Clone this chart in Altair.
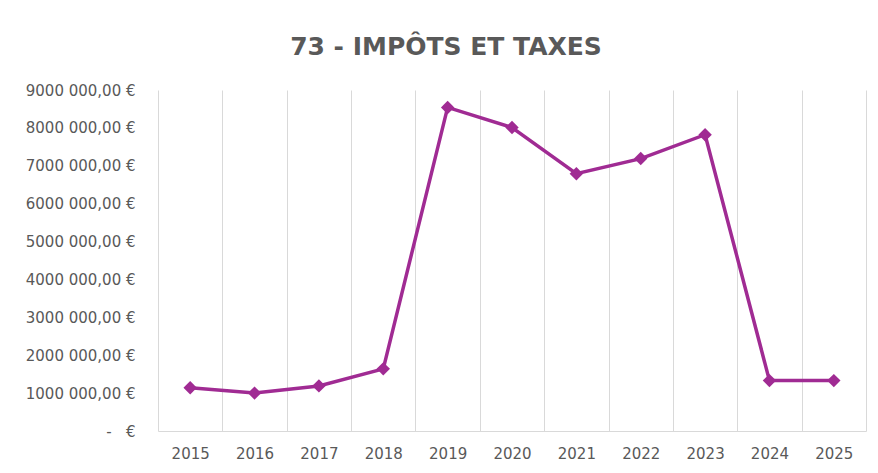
import altair as alt
import pandas as pd

years = ["2015", "2016", "2017", "2018", "2019", "2020", "2021", "2022", "2023", "2024", "2025"]
values = [1140000, 1000000, 1190000, 1640000, 8540000, 8010000, 6790000, 7190000, 7820000, 1330000, 1330000]
y_ticks = [0, 1000000, 2000000, 3000000, 4000000, 5000000, 6000000, 7000000, 8000000, 9000000]
title_text = "73 - IMPÔTS ET TAXES"

df = pd.DataFrame({"annee": years, "montant": values})

PURPLE = "#A02B93"
GRID = "#D9D9D9"
LABEL = "#595959"
FONT = "DejaVu Sans"

x_enc = alt.X(
    "annee:O",
    sort=years,
    scale=alt.Scale(paddingInner=0, paddingOuter=0),
    axis=alt.Axis(
        title=None,
        labelAngle=0,
        tickBand="extent",
        grid=True,
        gridColor=GRID,
        gridWidth=1,
        ticks=False,
        domain=True,
        domainColor=GRID,
        domainWidth=1,
        labelFont=FONT,
        labelFontSize=15,
        labelColor=LABEL,
        labelPadding=15,
    ),
)
y_enc = alt.Y(
    "montant:Q",
    scale=alt.Scale(domain=[0, 9000000], nice=False),
    axis=alt.Axis(
        title=None,
        values=y_ticks,
        grid=False,
        ticks=False,
        domain=False,
        labelFont=FONT,
        labelFontSize=15,
        labelColor=LABEL,
        labelPadding=23,
        labelExpr="datum.value == 0 ? '-\u00a0\u00a0\u00a0€' : format(datum.value / 1000, 'd') + ' 000,00 €'",
    ),
)

line = alt.Chart(df).mark_line(
    color=PURPLE,
    strokeWidth=3.5,
    point=alt.OverlayMarkDef(shape="diamond", size=180, filled=True, color=PURPLE, opacity=1),
).encode(x=x_enc, y=y_enc)

chart = line.properties(
    width=708,
    height=341,
    autosize=alt.AutoSizeParams(type="none"),
    padding={"left": 150, "top": 82, "right": 2, "bottom": 30},
    title=alt.TitleParams(
        text=title_text,
        anchor="middle",
        dx=-66,
        offset=3,
        baseline="alphabetic",
        font=FONT,
        fontSize=25,
        fontWeight="bold",
        color=LABEL,
    ),
).configure(background="white", view=alt.ViewConfig(stroke=None))

chart.save("out.html", embed_options={"renderer": "svg", "actions": False})
